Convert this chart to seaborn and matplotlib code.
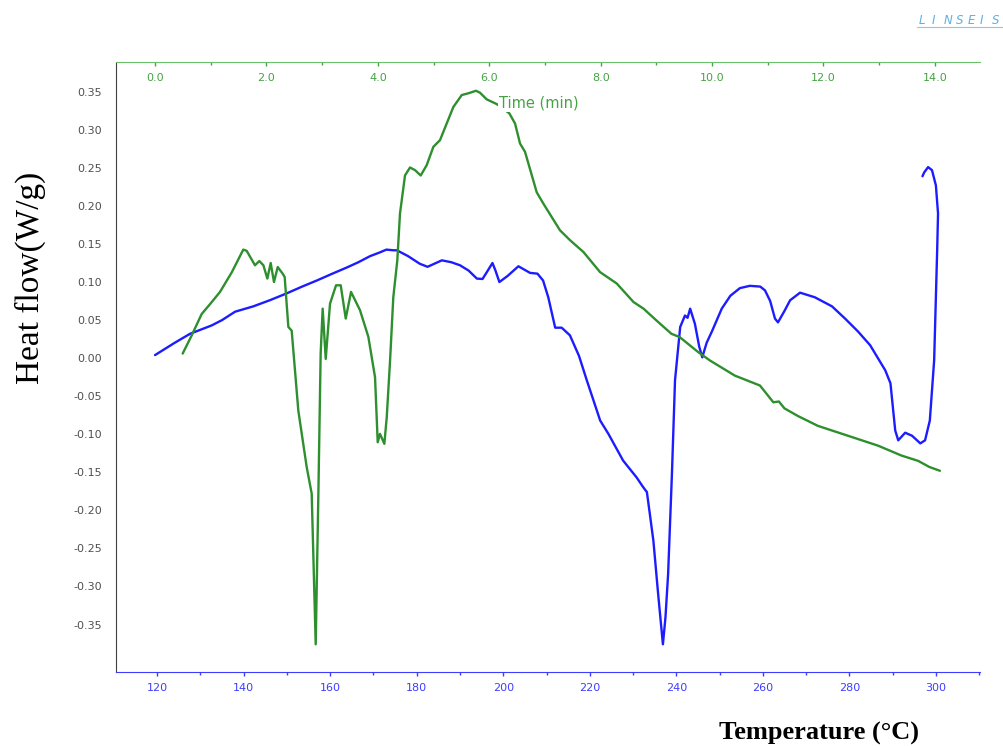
import matplotlib
matplotlib.use("Agg")
import matplotlib.pyplot as plt
from matplotlib.ticker import MultipleLocator, FormatStrFormatter
import seaborn as sns
import pandas as pd

# DSC run: heat flow against temperature (blue) and against time (green)
temperature_c = [119.5, 124.0, 127.6, 132.6, 135.0, 138.0, 142.2, 146.0, 149.9, 153.5,
                 156.9, 160.5, 163.8, 166.5, 169.2, 171.5, 173.0, 174.6, 175.4, 178.0,
                 180.7, 182.5, 185.8, 188.0, 190.0, 192.0, 193.9, 195.2, 196.2, 197.5,
                 198.2, 199.1, 201.0, 203.5, 206.2, 207.9, 209.2, 210.4, 212.0, 213.5,
                 215.4, 217.5, 219.3, 222.4, 224.3, 227.7, 230.8, 232.4, 233.2, 234.0,
                 234.7, 235.8, 236.9, 237.5, 238.1, 239.0, 239.7, 240.9, 242.0, 242.6,
                 243.2, 244.3, 245.3, 246.0, 247.0, 248.3, 250.5, 252.5, 254.7, 257.0,
                 259.4, 260.5, 261.7, 262.8, 263.5, 265.0, 266.3, 268.6, 272.0, 276.0,
                 279.0, 282.0, 284.8, 288.3, 289.5, 290.6, 291.3, 292.9, 294.5, 296.4,
                 297.5, 298.6, 299.6, 300.3, 300.5, 300.0, 299.1, 298.2, 297.3, 296.9]
heat_flow_temp = [0.004, 0.020, 0.032, 0.043, 0.050, 0.061, 0.068, 0.076, 0.085, 0.094,
                  0.102, 0.111, 0.119, 0.126, 0.134, 0.139, 0.1426, 0.1417, 0.1417, 0.134,
                  0.124, 0.120, 0.1285, 0.126, 0.122, 0.115, 0.1045, 0.104, 0.113, 0.125,
                  0.115, 0.100, 0.108, 0.1207, 0.112, 0.111, 0.102, 0.080, 0.040, 0.040,
                  0.030, 0.003, -0.029, -0.082, -0.0995, -0.1346, -0.1566, -0.170, -0.176, -0.21,
                  -0.240, -0.31, -0.376, -0.34, -0.284, -0.15, -0.029, 0.041, 0.056, 0.053,
                  0.065, 0.045, 0.015, 0.001, 0.020, 0.036, 0.065, 0.082, 0.092, 0.095,
                  0.094, 0.089, 0.075, 0.052, 0.047, 0.062, 0.076, 0.086, 0.080, 0.068,
                  0.052, 0.035, 0.017, -0.016, -0.033, -0.095, -0.108, -0.098, -0.102, -0.112,
                  -0.108, -0.082, -0.003, 0.142, 0.190, 0.227, 0.247, 0.251, 0.244, 0.239]

time_min = [0.497, 0.66, 0.838, 1.0, 1.167, 1.38, 1.585, 1.646, 1.795, 1.873,
            1.946, 2.017, 2.077, 2.136, 2.203, 2.292, 2.328, 2.394, 2.454, 2.573,
            2.723, 2.813, 2.885, 2.933, 2.974, 3.01, 3.065, 3.142, 3.25, 3.334,
            3.424, 3.519, 3.68, 3.83, 3.95, 3.998, 4.039, 4.117, 4.16, 4.22,
            4.278, 4.35, 4.398, 4.488, 4.578, 4.668, 4.77, 4.877, 4.997, 5.117,
            5.237, 5.356, 5.507, 5.625, 5.763, 5.835, 5.955, 6.135, 6.25, 6.361,
            6.463, 6.553, 6.643, 6.852, 6.972, 7.27, 7.45, 7.69, 7.99, 8.29,
            8.59, 8.77, 9.0, 9.27, 9.42, 9.75, 9.96, 10.41, 10.86, 11.1,
            11.2, 11.3, 11.54, 11.9, 12.44, 12.98, 13.4, 13.7, 13.9, 14.09]
heat_flow_time = [0.006, 0.030, 0.058, 0.072, 0.087, 0.113, 0.1426, 0.141, 0.122, 0.1276,
                  0.122, 0.1045, 0.125, 0.100, 0.1197, 0.111, 0.1066, 0.041, 0.036, -0.069,
                  -0.143, -0.178, -0.376, -0.178, 0.006, 0.065, -0.001, 0.0716, 0.0957, 0.0957,
                  0.052, 0.087, 0.063, 0.028, -0.025, -0.1105, -0.0995, -0.1126, -0.078, -0.003,
                  0.080, 0.1286, 0.190, 0.240, 0.2505, 0.247, 0.240, 0.2535, 0.2776, 0.2865,
                  0.3084, 0.330, 0.3457, 0.348, 0.3513, 0.3487, 0.340, 0.3338, 0.328, 0.3216,
                  0.3084, 0.282, 0.271, 0.218, 0.203, 0.168, 0.155, 0.1395, 0.113, 0.098,
                  0.0737, 0.065, 0.0496, 0.032, 0.0276, 0.008, -0.003, -0.023, -0.036, -0.058,
                  -0.057, -0.066, -0.076, -0.089, -0.102, -0.115, -0.128, -0.135, -0.143, -0.148]

temp_ticks = [120, 140, 160, 180, 200, 220, 240, 260, 280, 300]
time_ticks = [0, 2, 4, 6, 8, 10, 12, 14]
brand = "LINSEIS"

BLUE = "#1c1cff"
GREEN = "#2e8f2e"
GREEN_TXT = "#45a345"
BLUE_TXT = "#3d3dff"
GRAY_TXT = "#505050"

sns.set_style("white")
plt.rcParams["font.family"] = ["DejaVu Sans"]

df_temp = pd.DataFrame({"T": temperature_c, "H": heat_flow_temp})
df_time = pd.DataFrame({"t": time_min, "H": heat_flow_time})

fig = plt.figure(figsize=(10.04, 7.46), dpi=100)
ax = fig.add_axes([0.1152, 0.0996, 0.8609, 0.8177])
ax2 = ax.twiny()

sns.lineplot(data=df_temp, x="T", y="H", sort=False, estimator=None,
             color=BLUE, linewidth=1.7, ax=ax)
sns.lineplot(data=df_time, x="t", y="H", sort=False, estimator=None,
             color=GREEN, linewidth=1.7, ax=ax2)

ax.set_xlim(110.4, 310.2)
ax2.set_xlim(-0.706, 14.81)
ax.set_ylim(-0.412, 0.3895)

# bottom (temperature) axis
ax.set_xticks(temp_ticks)
ax.xaxis.set_minor_locator(MultipleLocator(10))
ax.tick_params(axis="x", which="major", direction="out", length=3, width=1,
               color=BLUE_TXT, labelcolor=BLUE_TXT, labelsize=8, pad=5)
ax.tick_params(axis="x", which="minor", direction="out", length=2, width=1, color=BLUE_TXT)

# left (heat flow) axis
ax.set_yticks([v / 100 for v in range(-35, 36, 5)])
ax.yaxis.set_minor_locator(MultipleLocator(0.01))
ax.yaxis.set_major_formatter(FormatStrFormatter("%.2f"))
ax.tick_params(axis="y", which="major", direction="out", length=4, width=1,
               color="#404040", labelcolor=GRAY_TXT, labelsize=8, pad=6)
ax.tick_params(axis="y", which="minor", direction="out", length=2, width=1, color="#404040")

# top (time) axis with labels inside the frame
ax2.set_xticks(time_ticks)
ax2.xaxis.set_major_formatter(FormatStrFormatter("%.1f"))
ax2.xaxis.set_minor_locator(MultipleLocator(1))
ax2.tick_params(axis="x", which="major", direction="in", length=3, width=1,
                color=GREEN_TXT, labelcolor=GREEN_TXT, labelsize=8, pad=-15)
ax2.tick_params(axis="x", which="minor", direction="in", length=2, width=1, color=GREEN_TXT)

for a in (ax, ax2):
    a.set_xlabel("")
    a.set_ylabel("")
    for s in a.spines.values():
        s.set_visible(False)
ax.spines["left"].set_visible(True)
ax.spines["left"].set_color("#404040")
ax.spines["bottom"].set_visible(True)
ax.spines["bottom"].set_color(BLUE_TXT)
ax2.spines["top"].set_visible(True)
ax2.spines["top"].set_color("#6cc06c")

ax2.text(6.176, 0.335, "Time (min)", color=GREEN_TXT, fontsize=10.5,
         ha="left", va="center", zorder=5,
         bbox=dict(facecolor="white", edgecolor="none", pad=1.0))

fig.text(30 / 1004, 1 - 278 / 746, "Heat flow(W/g)", rotation=90,
         ha="center", va="center", fontsize=24, family="Liberation Serif", color="black")
fig.text(819 / 1004, 1 - 733 / 746, "Temperature (\u00b0C)", ha="center", va="center",
         fontsize=19, fontweight="bold", family="Liberation Serif", color="black")

# widely spaced italic brand letters in the top-right corner
for i, ch in enumerate(brand):
    fig.text((919 + i * 12.2) / 1004, 1 - 20 / 746, ch, ha="left", va="center",
             fontsize=8.5, style="italic", color="#5fb0e0", family="DejaVu Sans")
fig.add_artist(plt.Line2D([917 / 1004, 1.0], [1 - 27 / 746, 1 - 27 / 746],
                          color="#8cc8ec", linewidth=0.8))

fig.savefig("out.png", dpi=100, facecolor="white")
